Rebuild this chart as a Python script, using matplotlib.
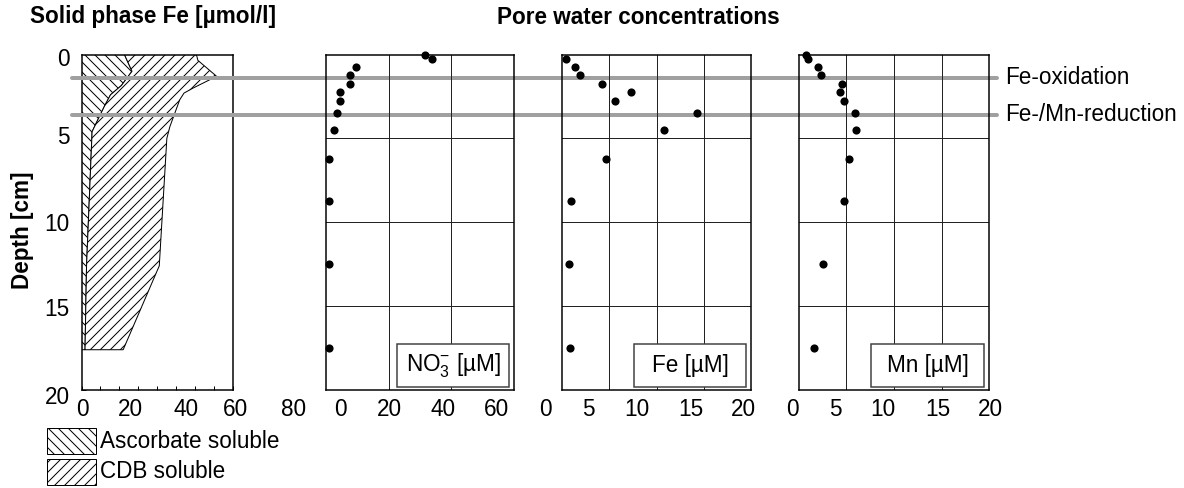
import numpy as np
import matplotlib
matplotlib.use("Agg")
import matplotlib.pyplot as plt
from matplotlib.patches import Polygon, Rectangle
import matplotlib.transforms as mtransforms

# ---------------- data ----------------
# solid phase Fe: ascorbate-soluble boundary and total (ascorbate + CDB) boundary
asc_depth = [0, 1.0, 1.85, 2.4, 3.05, 4.1, 4.6, 12.6, 17.6]
asc_val = [17.0, 20.0, 15.8, 11.5, 9.2, 5.8, 4.2, 2.0, 1.4]
tot_depth = [0, 0.35, 1.3, 1.7, 2.0, 2.3, 2.7, 4.3, 5.0, 12.6, 17.6]
tot_val = [45.5, 46.1, 53.5, 48.2, 44.2, 40.6, 38.9, 35.0, 33.8, 30.8, 16.5]

# pore water
pw_depth = [0, 0.25, 0.75, 1.25, 1.75, 2.25, 2.75, 3.5, 4.5, 6.25, 8.75, 12.5, 17.5]
no3 = [31.6, 33.9, 9.7, 7.7, 7.7, 4.5, 4.5, 3.6, 2.65, 1.05, 1.05, 1.05, 1.05]
fe_depth = [0.25, 0.75, 1.25, 1.75, 2.25, 2.75, 3.5, 4.5, 6.25, 8.75, 12.5, 17.5]
fe = [0.46, 1.34, 1.94, 4.23, 7.3, 5.64, 14.25, 10.83, 4.66, 0.92, 0.7, 0.88]
mn = [0.74, 0.98, 2.0, 2.35, 4.53, 4.35, 4.74, 5.86, 6.0, 5.3, 4.74, 2.56, 1.61]

zone_depth = [1.4, 3.6]
zone_labels = ["Fe-oxidation", "Fe-/Mn-reduction"]

p1_ticklabels = ["0", "20", "40", "60", "80"]
no3_ticklabels = ["0", "20", "40", "60"]
fe_ticklabels = ["0", "5", "10", "15", "20"]
mn_ticklabels = ["0", "5", "10", "15", "20"]
depth_ticklabels = ["0", "5", "10", "15", "20"]

panel_labels = ["NO$_3^{-}$ [µM]", "Fe [µM]", "Mn [µM]"]
legend_labels = ["Ascorbate soluble", "CDB soluble"]
title_left = "Solid phase Fe [µmol/l]"
title_right = "Pore water concentrations"
ylabel = "Depth [cm]"

# ---------------- style / layout ----------------
W, H, DPI = 1184, 488, 120
plt.rcParams["font.family"] = ["Liberation Sans", "DejaVu Sans"]
plt.rcParams["mathtext.fontset"] = "custom"
plt.rcParams["mathtext.rm"] = "Liberation Sans"
plt.rcParams["mathtext.it"] = "Liberation Sans:italic"
plt.rcParams["hatch.linewidth"] = 0.6
FS = 13.5
HATCH_ASC = "\\\\\\\\"
HATCH_CDB = "////"

fig = plt.figure(figsize=(W / DPI, H / DPI), dpi=DPI)

def fx(px):
    return px / W

def fy(py):
    return 1 - py / H

top_px, bot_px = 54.5, 390
def make_ax(left, right):
    ax = fig.add_axes([fx(left), fy(bot_px), fx(right) - fx(left), (bot_px - top_px) / H])
    ax.set_ylim(20, 0)
    for s in ax.spines.values():
        s.set_linewidth(0.9)
        s.set_color("black")
    return ax

ax1 = make_ax(81.5, 233)
ax2 = make_ax(326, 514)
ax3 = make_ax(562, 751)
ax4 = make_ax(799, 989)

# ---- panel 1: solid phase ----
ax1.set_xlim(0, 60)
asc_poly = [(0, asc_depth[0])] + list(zip(asc_val, asc_depth)) + [(0, asc_depth[-1])]
cdb_poly = list(zip(tot_val, tot_depth)) + list(zip(asc_val[::-1], asc_depth[::-1]))
ax1.add_patch(Polygon(asc_poly, closed=True, facecolor="white", edgecolor="black",
                      hatch=HATCH_ASC, lw=0.6, zorder=2))
ax1.add_patch(Polygon(cdb_poly, closed=True, facecolor="white", edgecolor="black",
                      hatch=HATCH_CDB, lw=0.6, zorder=2))
ax1.set_xticks(np.arange(0, 60.1, 7.5))
ax1.set_yticks(np.arange(0, 20.1, 2.5))
ax1.tick_params(direction="in", length=2.6, width=0.6, labelbottom=False, labelleft=False)
ax1.set_zorder(1)

# ---- pore water panels ----
def pw_panel(ax, xmax, grid_x, x, d, label):
    ax.set_facecolor("none")
    ax.set_xlim(0, xmax)
    ax.set_xticks(grid_x)
    ax.set_yticks([5, 10, 15])
    ax.grid(True, color="#222222", lw=0.6)
    ax.tick_params(length=0, labelbottom=False, labelleft=False)
    ax.scatter(x, d, s=24, color="black", zorder=5, clip_on=False, linewidths=0)
    box = Rectangle((0.38, 0.009), 0.595, 0.128, transform=ax.transAxes,
                    facecolor="white", edgecolor="#404040", lw=0.9, zorder=4)
    ax.add_patch(box)
    ax.text(0.38 + 0.595 / 2, 0.073, label, transform=ax.transAxes, ha="center",
            va="center", fontsize=FS, zorder=6)
    ax.set_zorder(2)

pw_panel(ax2, 60, [20, 40], no3, pw_depth, panel_labels[0])
pw_panel(ax3, 20, [5, 10, 15], fe, fe_depth, panel_labels[1])
pw_panel(ax4, 20, [5, 10, 15], mn, pw_depth, panel_labels[2])

# ---- zone lines (drawn in panel 1 so they lie under the dots of later panels) ----
blend = mtransforms.blended_transform_factory(fig.transFigure, ax1.transData)
for d, lab in zip(zone_depth, zone_labels):
    ax1.plot([fx(72), fx(997)], [d, d], transform=blend, color="#a0a0a0", lw=2.4,
             solid_capstyle="round", clip_on=False, zorder=10)
    yy = ax1.transData.transform((0, d))[1]
    fig.text(fx(1005), yy / H, lab, ha="left", va="center", fontsize=FS)

# ---- tick labels ----
tick_y = fy(410)
for labels, xs in [(p1_ticklabels, [82, 130.5, 186, 235, 293.5]),
                   (no3_ticklabels, [340.5, 389.5, 443.5, 496.5]),
                   (fe_ticklabels, [545, 588.5, 637, 691, 743.5]),
                   (mn_ticklabels, [792.5, 835, 883, 937.5, 990])]:
    for lab, xp in zip(labels, xs):
        fig.text(fx(xp), tick_y, lab, ha="center", va="center", fontsize=FS)
for lab, yp in zip(depth_ticklabels, [60, 137, 224, 309, 397]):
    fig.text(fx(70), fy(yp), lab, ha="right", va="center", fontsize=FS)

# ---- titles ----
fig.text(fx(30), fy(17), title_left, ha="left", va="center", fontsize=FS, fontweight="bold")
fig.text(fx(638), fy(17), title_right, ha="center", va="center", fontsize=FS, fontweight="bold")
fig.text(fx(22), fy(230), ylabel, ha="center", va="center", rotation=90, fontsize=FS,
         fontweight="bold")

# ---- legend ----
for (y0, y1), hatch, lab in zip([(428, 454), (459, 485)], [HATCH_ASC, HATCH_CDB], legend_labels):
    r = Rectangle((fx(47), fy(y1)), fx(95.7) - fx(47), (y1 - y0) / H, transform=fig.transFigure,
                  facecolor="white", edgecolor="black", hatch=hatch, lw=0.6)
    fig.patches.append(r)
    fig.text(fx(100), fy((y0 + y1) / 2), lab, ha="left", va="center", fontsize=FS)

fig.savefig("out.png", dpi=DPI)
